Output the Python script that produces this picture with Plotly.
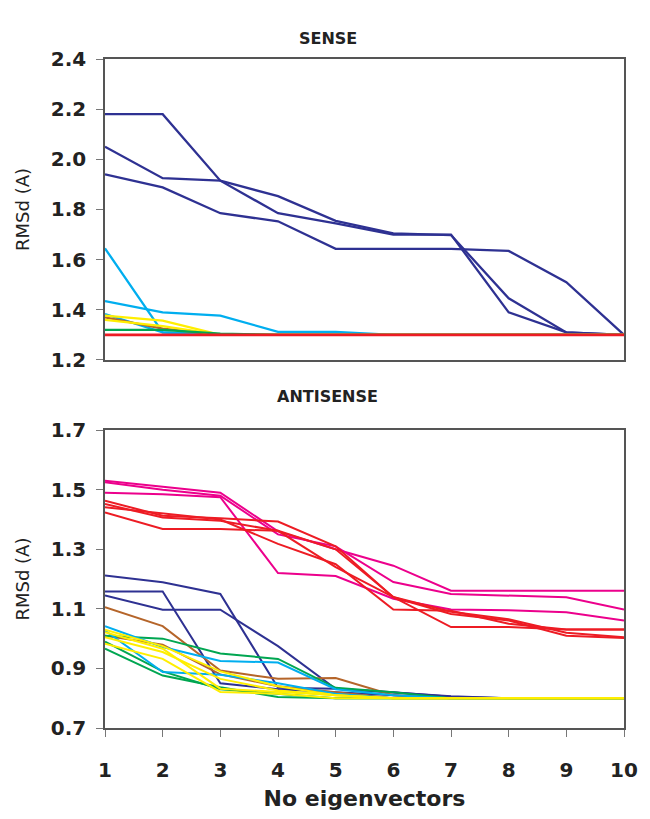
import plotly.graph_objects as go

# Number of eigenvectors used
n_eig = [1, 2, 3, 4, 5, 6, 7, 8, 9, 10]

# ---- SENSE strand: RMSd (A) per structure ----
sense_navy_1 = [2.18, 2.18, 1.915, 1.785, 1.745, 1.70, 1.70, 1.39, 1.31, 1.30]
sense_navy_2 = [2.05, 1.925, 1.915, 1.853, 1.755, 1.705, 1.698, 1.446, 1.31, 1.30]
sense_navy_3 = [1.94, 1.888, 1.785, 1.753, 1.643, 1.643, 1.643, 1.635, 1.51, 1.30]
sense_cyan_1 = [1.645, 1.31, 1.30, 1.30, 1.30, 1.30, 1.30, 1.30, 1.30, 1.30]
sense_cyan_2 = [1.435, 1.39, 1.377, 1.312, 1.312, 1.30, 1.30, 1.30, 1.30, 1.30]
sense_cyan_3 = [1.383, 1.31, 1.30, 1.30, 1.30, 1.30, 1.30, 1.30, 1.30, 1.30]
sense_brown = [1.37, 1.325, 1.30, 1.30, 1.30, 1.30, 1.30, 1.30, 1.30, 1.30]
sense_yellow_1 = [1.377, 1.357, 1.30, 1.30, 1.30, 1.30, 1.30, 1.30, 1.30, 1.30]
sense_yellow_2 = [1.36, 1.335, 1.30, 1.30, 1.30, 1.30, 1.30, 1.30, 1.30, 1.30]
sense_green = [1.32, 1.32, 1.305, 1.30, 1.30, 1.30, 1.30, 1.30, 1.30, 1.30]
sense_red = [1.30, 1.30, 1.30, 1.30, 1.30, 1.30, 1.30, 1.30, 1.30, 1.30]

# ---- ANTISENSE strand: RMSd (A) per structure ----
anti_magenta_1 = [1.53, 1.51, 1.49, 1.36, 1.30, 1.245, 1.161, 1.161, 1.161, 1.161]
anti_magenta_2 = [1.525, 1.50, 1.48, 1.35, 1.31, 1.19, 1.15, 1.145, 1.139, 1.098]
anti_magenta_3 = [1.49, 1.485, 1.475, 1.22, 1.21, 1.134, 1.098, 1.095, 1.089, 1.061]
anti_red_1 = [1.463, 1.413, 1.404, 1.393, 1.31, 1.139, 1.083, 1.061, 1.010, 1.002]
anti_red_2 = [1.452, 1.407, 1.396, 1.362, 1.30, 1.14, 1.09, 1.065, 1.02, 1.005]
anti_red_3 = [1.441, 1.42, 1.40, 1.318, 1.25, 1.098, 1.094, 1.05, 1.031, 1.031]
anti_red_4 = [1.424, 1.368, 1.368, 1.362, 1.24, 1.139, 1.039, 1.039, 1.031, 1.031]
anti_navy_1 = [1.212, 1.189, 1.150, 0.835, 0.832, 0.82, 0.807, 0.80, 0.80, 0.80]
anti_navy_2 = [1.158, 1.158, 0.85, 0.83, 0.82, 0.81, 0.80, 0.80, 0.80, 0.80]
anti_navy_3 = [1.145, 1.097, 1.097, 0.975, 0.832, 0.82, 0.805, 0.80, 0.80, 0.80]
anti_brown_1 = [1.106, 1.042, 0.893, 0.865, 0.868, 0.81, 0.80, 0.80, 0.80, 0.80]
anti_brown_2 = [1.01, 0.98, 0.88, 0.84, 0.82, 0.80, 0.80, 0.80, 0.80, 0.80]
anti_green_1 = [1.01, 1.00, 0.95, 0.932, 0.835, 0.82, 0.80, 0.80, 0.80, 0.80]
anti_green_2 = [0.966, 0.876, 0.837, 0.804, 0.80, 0.80, 0.80, 0.80, 0.80, 0.80]
anti_green_3 = [0.99, 0.89, 0.83, 0.815, 0.80, 0.80, 0.80, 0.80, 0.80, 0.80]
anti_cyan_1 = [1.042, 0.972, 0.925, 0.92, 0.83, 0.81, 0.80, 0.80, 0.80, 0.80]
anti_cyan_2 = [1.027, 0.888, 0.879, 0.85, 0.815, 0.80, 0.80, 0.80, 0.80, 0.80]
anti_yellow_1 = [1.022, 0.966, 0.832, 0.82, 0.81, 0.80, 0.80, 0.80, 0.80, 0.80]
anti_yellow_2 = [1.005, 0.955, 0.865, 0.826, 0.81, 0.80, 0.80, 0.80, 0.80, 0.80]
anti_yellow_3 = [0.983, 0.932, 0.821, 0.815, 0.80, 0.80, 0.80, 0.80, 0.80, 0.80]
anti_yellow_4 = [1.03, 0.975, 0.89, 0.84, 0.81, 0.80, 0.80, 0.80, 0.80, 0.80]

sense_yticks = [1.2, 1.4, 1.6, 1.8, 2.0, 2.2, 2.4]
anti_yticks = [0.7, 0.9, 1.1, 1.3, 1.5, 1.7]

NAVY = "#2E3192"
CYAN = "#00AEEF"
YELLOW = "#FFEE00"
GREEN = "#00A651"
BROWN = "#B5652A"
RED = "#ED1C24"
MAGENTA = "#EC008C"

FONT = "DejaVu Sans, Liberation Sans, sans-serif"
TEXT = "#222222"

# drawing order: later series sit on top
sense_series = [
    (sense_navy_1, NAVY), (sense_navy_2, NAVY), (sense_navy_3, NAVY),
    (sense_cyan_1, CYAN), (sense_cyan_2, CYAN), (sense_cyan_3, CYAN),
    (sense_brown, BROWN), (sense_yellow_1, YELLOW), (sense_yellow_2, YELLOW),
    (sense_green, GREEN), (sense_red, RED),
]
anti_series = [
    (anti_magenta_1, MAGENTA), (anti_magenta_2, MAGENTA), (anti_magenta_3, MAGENTA),
    (anti_red_1, RED), (anti_red_2, RED), (anti_red_3, RED), (anti_red_4, RED),
    (anti_navy_1, NAVY), (anti_navy_2, NAVY), (anti_navy_3, NAVY),
    (anti_brown_1, BROWN), (anti_brown_2, BROWN),
    (anti_green_1, GREEN), (anti_green_2, GREEN), (anti_green_3, GREEN),
    (anti_cyan_1, CYAN), (anti_cyan_2, CYAN),
    (anti_yellow_1, YELLOW), (anti_yellow_2, YELLOW), (anti_yellow_3, YELLOW),
    (anti_yellow_4, YELLOW),
]

fig = go.Figure()
for vals, col in sense_series:
    fig.add_trace(go.Scatter(x=n_eig, y=vals, mode="lines", xaxis="x", yaxis="y",
                             line=dict(color=col, width=2.6 if col == RED else 2.3),
                             showlegend=False, hoverinfo="skip"))
for vals, col in anti_series:
    fig.add_trace(go.Scatter(x=n_eig, y=vals, mode="lines", xaxis="x2", yaxis="y2",
                             line=dict(color=col, width=2), showlegend=False,
                             hoverinfo="skip"))

axis_line = dict(showline=True, linecolor="#555555", linewidth=1.6, mirror=True,
                 showgrid=False, zeroline=False)
tick_font = dict(family=FONT, size=20, color=TEXT, weight="bold")
ytitle_font = dict(family=FONT, size=18, color=TEXT)

fig.update_layout(
    width=650, height=819,
    margin=dict(l=105, r=16, t=59, b=90),
    paper_bgcolor="white", plot_bgcolor="white",
    xaxis=dict(anchor="y", range=[1, 10], showticklabels=False, ticks="",
               **axis_line),
    yaxis=dict(domain=[0.5501, 1.0], range=[1.2, 2.4], tickvals=sense_yticks,
               tickformat=".1f", ticks="outside", ticklen=7, tickcolor="#777777",
               tickwidth=1.4, tickfont=tick_font, ticklabelstandoff=6,
               title=dict(text="RMSd (A)", font=ytitle_font, standoff=16),
               **axis_line),
    xaxis2=dict(anchor="y2", range=[1, 10], tickvals=n_eig, ticks="outside",
                ticklen=7, tickcolor="#777777", tickwidth=1.4, tickfont=tick_font,
                ticklabelstandoff=16,
                title=dict(text="No eigenvectors",
                           font=dict(family=FONT, size=22, color=TEXT, weight="bold"),
                           standoff=10),
                **axis_line),
    yaxis2=dict(domain=[0.0, 0.4452], range=[0.7, 1.7], tickvals=anti_yticks,
                tickformat=".1f", ticks="outside", ticklen=7, tickcolor="#777777",
                tickwidth=1.4, tickfont=tick_font, ticklabelstandoff=6,
                title=dict(text="RMSd (A)", font=ytitle_font, standoff=16),
                **axis_line),
    annotations=[
        dict(text="<b>SENSE</b>", x=0.429, y=1.048, xref="paper", yref="paper",
             showarrow=False, font=dict(family=FONT, size=16, color=TEXT)),
        dict(text="<b>ANTISENSE</b>", x=0.429, y=0.496, xref="paper", yref="paper",
             showarrow=False, font=dict(family=FONT, size=16, color=TEXT)),
    ],
)

fig.write_html("out.html")
